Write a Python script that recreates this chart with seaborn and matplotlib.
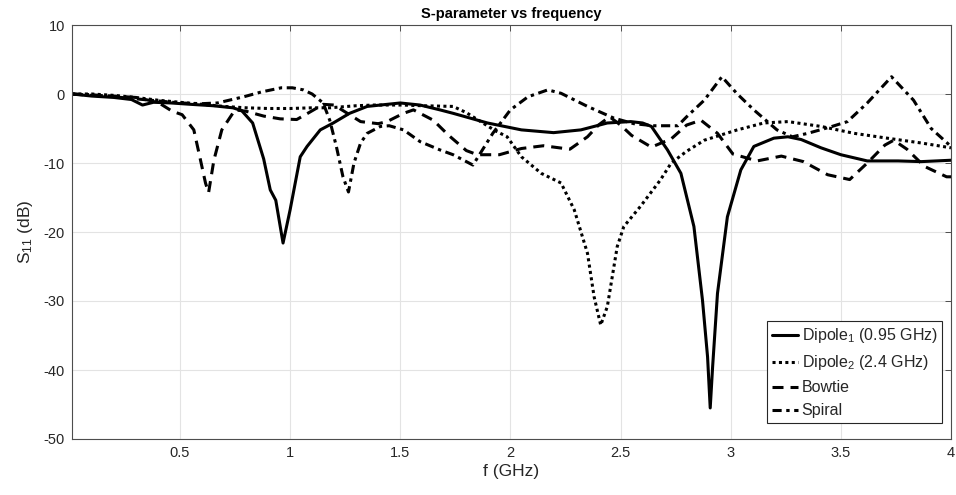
import numpy as np
import pandas as pd
import matplotlib
matplotlib.use("Agg")
import matplotlib.pyplot as plt
import seaborn as sns

# ---- data ----
dip1_f = [0.01, 0.1, 0.2, 0.28, 0.33, 0.38, 0.46, 0.55, 0.65, 0.74, 0.78, 0.83, 0.88, 0.91, 0.935,
          0.968, 1.0, 1.046, 1.077, 1.137, 1.196, 1.27, 1.35, 1.5, 1.59, 1.68, 1.74, 1.896, 2.05,
          2.196, 2.32, 2.44, 2.546, 2.6, 2.64, 2.713, 2.774, 2.833, 2.872, 2.895, 2.907, 2.918,
          2.94, 2.985, 3.046, 3.105, 3.196, 3.26, 3.32, 3.41, 3.5, 3.62, 3.76, 3.865, 4.0]
dip1_db = [0, -0.3, -0.5, -0.8, -1.6, -1.2, -1.3, -1.5, -1.7, -2.0, -2.4, -4.2, -9.4, -13.9, -15.4,
           -21.6, -16.8, -9.1, -7.6, -5.2, -4.2, -2.8, -1.8, -1.3, -1.6, -2.3, -2.8, -4.2, -5.2,
           -5.6, -5.2, -4.2, -4.0, -4.2, -4.7, -8.1, -11.5, -19.2, -29.9, -38.1, -45.5, -39.5,
           -28.9, -17.8, -11.0, -7.6, -6.4, -6.2, -6.6, -7.8, -8.8, -9.7, -9.7, -9.8, -9.6]

dip2_f = [0.01, 0.1, 0.2, 0.3, 0.4, 0.5, 0.6, 0.7, 0.8, 0.9, 1.0, 1.1, 1.18, 1.3, 1.38, 1.51, 1.6,
          1.74, 1.8, 1.865, 1.93, 1.985, 2.05, 2.14, 2.23, 2.29, 2.35, 2.38, 2.41, 2.44, 2.485,
          2.515, 2.59, 2.68, 2.73, 2.8, 2.88, 3.03, 3.15, 3.26, 3.41, 3.56, 3.71, 3.865, 4.0]
dip2_db = [0, 0, -0.2, -0.5, -0.9, -1.2, -1.5, -1.8, -2.0, -2.1, -2.1, -2.0, -2.0, -1.7, -1.6, -1.6,
           -1.7, -1.8, -2.7, -4.0, -5.3, -6.2, -9.1, -11.5, -12.9, -16.8, -23.1, -29.4, -33.5,
           -30.8, -22.1, -19.2, -16.3, -12.5, -10.0, -8.3, -6.7, -5.2, -4.2, -4.0, -4.7, -5.7,
           -6.4, -7.1, -7.8]

bow_f = [0.01, 0.1, 0.2, 0.3, 0.4, 0.465, 0.51, 0.563, 0.59, 0.616, 0.63, 0.654, 0.69, 0.75, 0.8,
         0.88, 0.955, 1.03, 1.08, 1.15, 1.2, 1.27, 1.32, 1.4, 1.44, 1.515, 1.56, 1.65, 1.72, 1.8,
         1.85, 1.95, 2.05, 2.15, 2.27, 2.35, 2.4, 2.45, 2.5, 2.55, 2.64, 2.73, 2.8, 2.865, 2.94,
         3.01, 3.12, 3.23, 3.33, 3.44, 3.54, 3.62, 3.7, 3.74, 3.8, 3.88, 3.98, 4.0]
bow_db = [0, -0.2, -0.3, -0.5, -1.2, -2.5, -3.0, -5.2, -9.1, -12.9, -14.3, -9.6, -5.2, -2.3, -2.5,
          -3.2, -3.6, -3.7, -2.8, -1.5, -1.6, -3.0, -4.0, -4.3, -4.0, -2.8, -2.3, -3.8, -6.0, -8.2,
          -8.8, -8.8, -7.9, -7.5, -8.0, -6.2, -4.5, -3.3, -4.5, -6.0, -7.7, -6.5, -4.5, -3.8, -5.7,
          -8.7, -9.7, -9.0, -9.8, -11.7, -12.4, -10.0, -7.4, -6.7, -8.0, -10.5, -12.0, -12.0]

spi_f = [0.01, 0.1, 0.2, 0.3, 0.4, 0.5, 0.6, 0.67, 0.79, 0.87, 0.96, 1.01, 1.06, 1.1, 1.15, 1.18,
         1.21, 1.24, 1.265, 1.29, 1.32, 1.35, 1.41, 1.45, 1.515, 1.59, 1.68, 1.74, 1.83, 1.92, 2.0,
         2.08, 2.17, 2.23, 2.35, 2.47, 2.56, 2.65, 2.76, 2.8, 2.88, 2.96, 3.03, 3.105, 3.21, 3.28,
         3.35, 3.45, 3.53, 3.62, 3.73, 3.83, 3.91, 4.0]
spi_db = [0, -0.1, -0.4, -0.7, -1.0, -1.3, -1.4, -1.3, -0.4, 0.3, 0.9, 0.9, 0.6, 0.0, -1.3, -3.8,
          -7.6, -12.0, -14.2, -10.0, -7.1, -5.7, -4.7, -4.6, -5.2, -6.9, -8.1, -8.8, -10.3, -5.7,
          -2.3, -0.4, 0.6, 0.1, -1.8, -3.5, -4.3, -4.6, -4.6, -3.3, -0.9, 2.5, 0.0, -2.3, -5.2,
          -6.2, -5.7, -4.8, -4.0, -1.3, 2.5, -0.9, -5.0, -7.6]

labels = ["Dipole$_1$ (0.95 GHz)", "Dipole$_2$ (2.4 GHz)", "Bowtie", "Spiral"]
x_ticks = [0.5, 1, 1.5, 2, 2.5, 3, 3.5, 4]
y_ticks = [-50, -40, -30, -20, -10, 0, 10]

# ---- style ----
sns.set_style("whitegrid")
plt.rcParams["font.family"] = ["Liberation Sans", "DejaVu Sans"]
plt.rcParams["mathtext.fontset"] = "custom"
plt.rcParams["mathtext.rm"] = "Liberation Sans"
plt.rcParams["mathtext.it"] = "Liberation Sans:italic"
plt.rcParams["mathtext.default"] = "regular"
plt.rcParams["axes.unicode_minus"] = False

fig = plt.figure(figsize=(9.56, 4.95), dpi=100)
ax = fig.add_axes([72 / 956, 1 - 439 / 495, (951 - 72) / 956, (439 - 25) / 495])

lw = 2.2
series = [
    (dip1_f, dip1_db, labels[0], "-"),
    (dip2_f, dip2_db, labels[1], (0, (1.0, 1.1))),
    (bow_f, bow_db, labels[2], (0, (3.6, 2.3))),
    (spi_f, spi_db, labels[3], (0, (3.0, 1.5, 1.1, 1.5))),
]
for f, db, lab, ls in series:
    df = pd.DataFrame({"f": f, "S11": db})
    sns.lineplot(data=df, x="f", y="S11", ax=ax, color="black", lw=lw,
                 linestyle=ls, label=lab, errorbar=None, sort=False)

ax.set_xlim(0.01, 4)
ax.set_ylim(-50, 10)
ax.set_xticks(x_ticks)
ax.set_xticklabels([("%g" % t) for t in x_ticks])
ax.set_yticks(y_ticks)
ax.grid(True, color="#e3e3e3", lw=0.8)
for s in ax.spines.values():
    s.set_color("#4d4d4d")
    s.set_linewidth(0.8)
ax.tick_params(axis="both", direction="in", length=4, width=0.7, color="#4d4d4d",
               labelsize=10.5, labelcolor="#262626", top=True, right=True, pad=5)

ax.set_xlabel("f (GHz)", fontsize=12.5, color="#262626", labelpad=3)
ax.set_ylabel("S$_{11}$ (dB)", fontsize=12.5, color="#262626", labelpad=6)
ax.set_title("S-parameter vs frequency", fontsize=10.5, fontweight="bold", color="black", pad=5)

leg = ax.legend(loc="lower right", bbox_to_anchor=(0.9955, 0.027), fontsize=11.5, frameon=True,
                fancybox=False, edgecolor="#262626", framealpha=1, handlelength=1.6,
                handletextpad=0.25, borderpad=0.3, labelspacing=0.5, borderaxespad=0.3)
leg.get_frame().set_linewidth(0.8)

fig.savefig("out.png", dpi=100)
